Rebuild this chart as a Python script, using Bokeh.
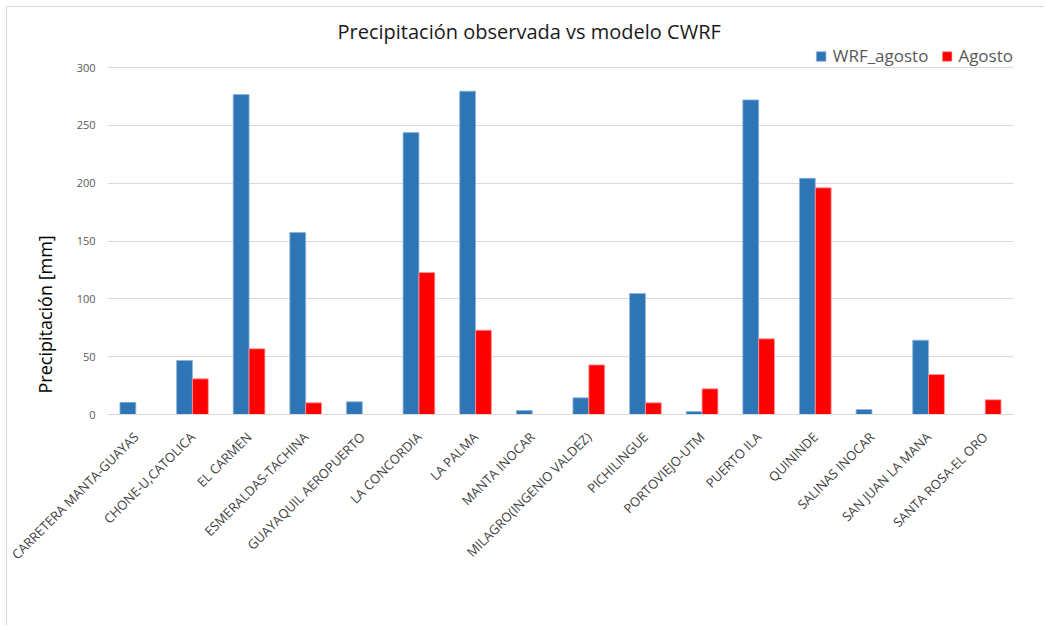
import math
import numpy as np
from bokeh.plotting import figure
from bokeh.models import (ColumnDataSource, FactorRange, Range1d, FixedTicker,
                          Legend, LegendItem, Title)
from bokeh.transform import dodge
from bokeh.embed import file_html
from bokeh.resources import INLINE

# Stations (August precipitation, mm)
stations = [
    "CARRETERA MANTA-GUAYAS", "CHONE-U,CATOLICA", "EL CARMEN", "ESMERALDAS-TACHINA",
    "GUAYAQUIL AEROPUERTO", "LA CONCORDIA", "LA PALMA", "MANTA INOCAR",
    "MILAGRO(INGENIO VALDEZ)", "PICHILINGUE", "PORTOVIEJO-UTM", "PUERTO ILA",
    "QUININDE", "SALINAS INOCAR", "SAN JUAN LA MANA", "SANTA ROSA-EL ORO",
]
wrf_agosto = [10.5, 46.7, 276.6, 157.3, 11.0, 243.7, 279.5, 3.5,
              14.4, 104.6, 2.6, 272.0, 204.2, 4.3, 64.2, None]
agosto = [None, 30.8, 56.8, 10.1, None, 122.7, 72.9, None,
          42.9, 10.1, 22.2, 65.4, 196.0, None, 34.6, 12.7]
y_ticks = [0, 50, 100, 150, 200, 250, 300]

TEXT_FONT = "Open Sans"


def as_float(vals):
    return [np.nan if v is None else float(v) for v in vals]


source = ColumnDataSource(dict(station=stations,
                               wrf=as_float(wrf_agosto),
                               obs=as_float(agosto)))

# chart area sits 7px in from the page's top-left corner (light border)
OFF = 7
W, H = 1045 - OFF, 626 - OFF
GRID_TOP, FB = 67 - OFF, 414 - OFF        # pixel rows of the 300 and 0 values
FL, FR, FT = 107 - OFF, 1013 - OFF, 44 - OFF
# headroom above 300 keeps the legend inside the plot area
y_top = 300 * (FB - FT) / (FB - GRID_TOP)

p = figure(x_range=FactorRange(*stations, range_padding=0),
           y_range=Range1d(0, y_top), title=None,
           width=W, height=H, output_backend="svg", toolbar_location=None,
           min_border_left=FL, min_border_right=W - FR,
           min_border_top=FT, min_border_bottom=H - FB,
           styles={"border-left": "1px solid #d9d9d9", "border-top": "1px solid #d9d9d9",
                   "margin-left": "6px", "margin-top": "6px"})

p.outline_line_color = None
p.background_fill_color = "white"
p.border_fill_color = "white"

blue = p.vbar(x=dodge("station", -0.14, range=p.x_range), top="wrf", width=0.28,
              source=source, fill_color="#2E75B6", line_color="#8fb4da", line_width=0.8)
red = p.vbar(x=dodge("station", 0.14, range=p.x_range), top="obs", width=0.28,
             source=source, fill_color="#FF0000", line_color="#ff9a9a", line_width=0.8)

# grid
p.xgrid.grid_line_color = None
p.ygrid.grid_line_color = "#d9d9d9"
p.ygrid.grid_line_width = 1
p.yaxis.ticker = FixedTicker(ticks=y_ticks)

# y axis
p.yaxis.axis_line_color = None
p.yaxis.major_tick_line_color = None
p.yaxis.minor_tick_line_color = None
p.yaxis.major_label_text_font = TEXT_FONT
p.yaxis.major_label_text_font_size = "11px"
p.yaxis.major_label_text_color = "#595959"
p.yaxis.major_label_standoff = 6

# x axis
p.xaxis.axis_line_color = "#d9d9d9"
p.xaxis.major_tick_line_color = None
p.xaxis.minor_tick_line_color = None
p.xaxis.major_label_orientation = math.pi / 4
p.xaxis.major_label_text_font = TEXT_FONT
p.xaxis.major_label_text_font_size = "13px"
p.xaxis.major_label_text_color = "#404040"
p.xaxis.major_label_standoff = 14

# legend at the top right, over the 300 grid line
legend = Legend(items=[LegendItem(label="WRF_agosto", renderers=[blue]),
                       LegendItem(label="Agosto", renderers=[red])],
                orientation="horizontal", location="top_right",
                glyph_width=12, glyph_height=12, label_standoff=6, spacing=12,
                padding=2, margin=0, label_height=20,
                label_text_font=TEXT_FONT, label_text_font_size="17px",
                label_text_color="#595959", label_text_baseline="middle",
                border_line_color=None, background_fill_color="white",
                background_fill_alpha=1.0)
p.add_layout(legend, "center")

# chart title
p.add_layout(Title(text="Precipitación observada vs modelo CWRF", align="left",
                   offset=337 - 107, standoff=0,
                   text_font=TEXT_FONT, text_font_size="20px",
                   text_font_style="normal", text_color="#1a1a1a"), "above")

# y axis title
p.add_layout(Title(text="Precipitación [mm]", align="left", offset=21, standoff=33,
                   text_font=TEXT_FONT, text_font_size="18px",
                   text_font_style="normal", text_color="#000000"), "left")

open("out.html", "w").write(file_html(p, INLINE))
